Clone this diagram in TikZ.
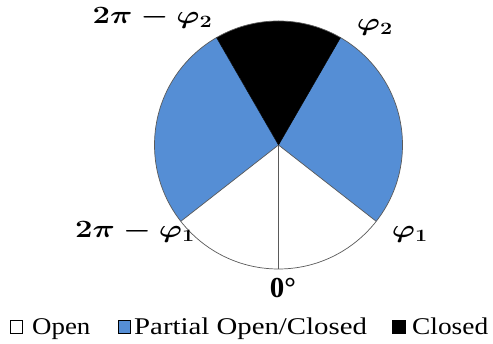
\documentclass[tikz,border=0pt]{standalone}
\usepackage{graphicx}
\usepackage{fontspec}
\newfontfamily\legfont{Liberation Serif}
\definecolor{pblue}{RGB}{85,142,213}
\definecolor{edgegray}{RGB}{90,90,90}
\begin{document}
\begin{tikzpicture}[x=1pt,y=1pt,
  sector/.style={draw=edgegray,line width=0.7pt,line join=round},
  mlabel/.style={inner sep=0pt,anchor=base,font=\fontsize{23}{28}\selectfont\boldmath},
  legbox/.style={draw=black,line width=0.6pt,minimum size=12.5pt,inner sep=0pt},
  legtext/.style={anchor=base west,inner sep=0pt,font=\legfont\fontsize{24}{28}\selectfont}]
\useasboundingbox (0,0) rectangle (493,344);
\coordinate (c) at (278.5,199);
\def\R{124}
% sectors
\fill[white] (c) -- ++(-142:\R) arc[start angle=-142,end angle=-38,radius=\R] -- cycle;
\fill[pblue] (c) -- ++(-38:\R) arc[start angle=-38,end angle=60,radius=\R] -- cycle;
\fill[black] (c) -- ++(60:\R) arc[start angle=60,end angle=120,radius=\R] -- cycle;
\fill[pblue] (c) -- ++(120:\R) arc[start angle=120,end angle=218,radius=\R] -- cycle;
\draw[sector] (c) circle[radius=\R];
\draw[sector] (c) -- ++(-142:\R);
\draw[sector] (c) -- ++(-38:\R);
\draw[sector] (c) -- ++(-90:\R) coordinate (bot);
\draw[black,line width=0.5pt] (c) -- ++(60:\R);
\draw[black,line width=0.5pt] (c) -- ++(120:\R);
% labels
\node[mlabel] (l2m) at (152.5,320.5) {\scalebox{1.25}[1]{$2\pi-\varphi_2$}};
\node[mlabel] (l2) at (375,313) {\scalebox{1.25}[1]{$\varphi_2$}};
\node[mlabel] (l1) at (410,106) {\scalebox{1.25}[1]{$\varphi_1$}};
\node[mlabel] (l1m) at (135,106) {\scalebox{1.25}[1]{$2\pi-\varphi_1$}};
\node[inner sep=0pt,anchor=base,font=\legfont\bfseries\fontsize{29}{32}\selectfont] (l0) at (283,46) {0°};
% legend
\node[legbox,fill=white] (b1) at (16.5,17) {};
\node[legtext] (t1) at (32,9) {\scalebox{1.12}[1]{Open}};
\node[legbox,fill=pblue] (b2) at (124.5,17) {};
\node[legtext] (t2) at (134,9) {\scalebox{1.2}[1]{Partial Open/Closed}};
\node[legbox,fill=black] (b3) at (399,17) {};
\node[legtext] (t3) at (412,9) {\scalebox{1.14}[1]{Closed}};
\end{tikzpicture}
\end{document}
